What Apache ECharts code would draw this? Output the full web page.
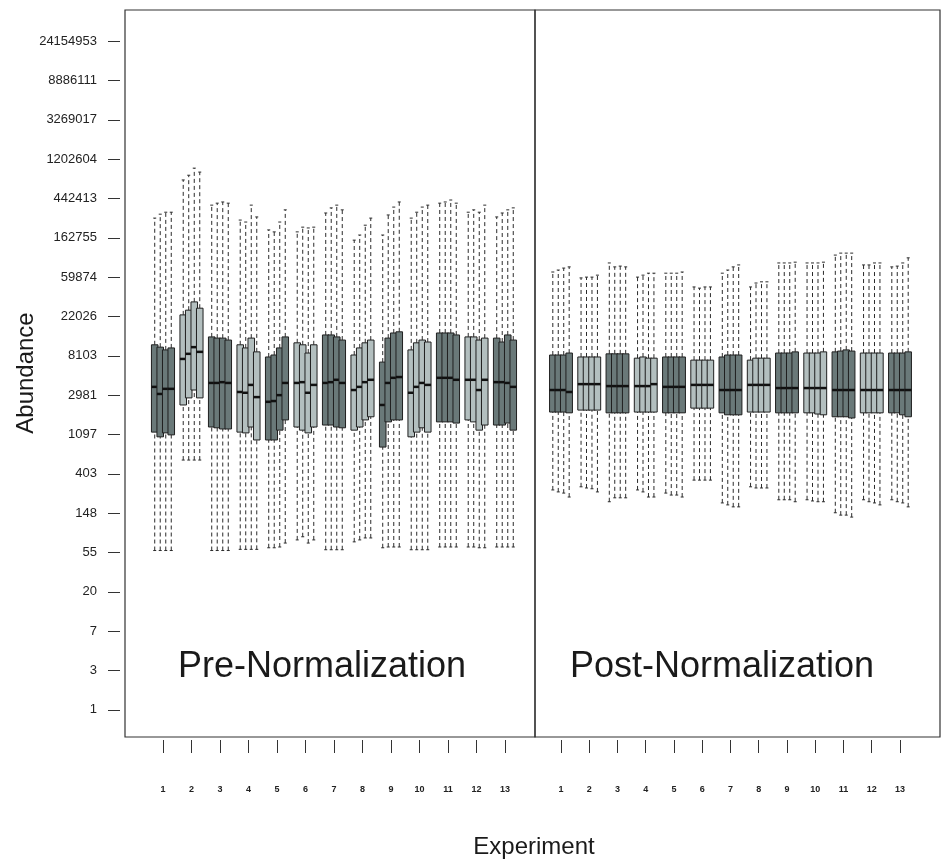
<!DOCTYPE html>
<html>
<head>
<meta charset="utf-8">
<script src="https://cdn.jsdelivr.net/npm/echarts@6/dist/echarts.min.js"></script>
<style>
  html, body { margin: 0; padding: 0; background: #fff; }
  #chart { width: 945px; height: 863px; }
</style>
</head>
<body>
<div id="chart"></div>
<script>
// experiment labels and y tick labels (e^0 .. e^17, rounded)
const experiments = ['1', '2', '3', '4', '5', '6', '7', '8', '9', '10', '11', '12', '13'];
const yTickLabels = ['1', '3', '7', '20', '55', '148', '403', '1097', '2981', '8103', '22026',
  '59874', '162755', '442413', '1202604', '3269017', '8886111', '24154953'];

// values are natural-log abundance, 4 replicate runs per experiment
const preHigh = [
  [12.50, 12.60, 12.65, 12.65], [13.47, 13.59, 13.77, 13.67], [12.83, 12.88, 12.91, 12.88],
  [12.45, 12.40, 12.83, 12.53], [12.20, 12.15, 12.40, 12.71], [12.15, 12.27, 12.25, 12.27],
  [12.63, 12.76, 12.83, 12.71], [11.94, 12.07, 12.32, 12.50], [12.07, 12.58, 12.78, 12.91],
  [12.50, 12.65, 12.78, 12.83], [12.88, 12.91, 12.96, 12.88], [12.65, 12.71, 12.65, 12.83],
  [12.53, 12.63, 12.71, 12.76]];
const preQ3 = [
  [9.28, 9.22, 9.15, 9.20], [10.04, 10.16, 10.37, 10.21], [9.48, 9.45, 9.45, 9.40],
  [9.28, 9.20, 9.45, 9.10], [8.97, 9.02, 9.20, 9.48], [9.33, 9.28, 9.07, 9.28],
  [9.53, 9.53, 9.48, 9.40], [9.02, 9.20, 9.33, 9.40], [8.84, 9.45, 9.58, 9.61],
  [9.15, 9.33, 9.40, 9.35], [9.58, 9.58, 9.58, 9.53], [9.48, 9.48, 9.40, 9.45],
  [9.45, 9.35, 9.53, 9.40]];
const preMed = [
  [8.21, 8.03, 8.16, 8.16], [8.92, 9.05, 9.22, 9.10], [8.31, 8.31, 8.33, 8.31],
  [8.08, 8.06, 8.26, 7.95], [7.83, 7.85, 8.00, 8.31], [8.31, 8.33, 8.06, 8.26],
  [8.31, 8.33, 8.39, 8.31], [8.13, 8.21, 8.33, 8.39], [7.75, 8.31, 8.44, 8.46],
  [8.06, 8.21, 8.31, 8.26], [8.44, 8.44, 8.44, 8.39], [8.39, 8.39, 8.13, 8.39],
  [8.33, 8.33, 8.31, 8.21]];
const preQ1 = [
  [7.06, 6.94, 7.04, 6.99], [7.75, 7.93, 8.13, 7.93], [7.19, 7.17, 7.14, 7.14],
  [7.06, 7.04, 7.19, 6.86], [6.86, 6.86, 7.11, 7.37], [7.19, 7.11, 7.04, 7.19],
  [7.24, 7.24, 7.19, 7.17], [7.11, 7.19, 7.37, 7.45], [6.68, 7.32, 7.37, 7.37],
  [6.94, 7.06, 7.17, 7.06], [7.32, 7.32, 7.32, 7.29], [7.37, 7.32, 7.11, 7.24],
  [7.24, 7.24, 7.29, 7.11]];
const preLow = [
  [4.05, 4.05, 4.05, 4.05], [6.35, 6.35, 6.35, 6.35], [4.05, 4.05, 4.05, 4.05],
  [4.08, 4.08, 4.08, 4.08], [4.12, 4.12, 4.14, 4.24], [4.32, 4.40, 4.24, 4.32],
  [4.07, 4.07, 4.07, 4.07], [4.27, 4.32, 4.37, 4.37], [4.12, 4.14, 4.14, 4.14],
  [4.07, 4.07, 4.07, 4.07], [4.14, 4.14, 4.14, 4.14], [4.14, 4.14, 4.12, 4.12],
  [4.14, 4.14, 4.14, 4.14]];

const postHigh = [
  [11.13, 11.18, 11.23, 11.26], [10.98, 11.00, 11.00, 11.05], [11.36, 11.26, 11.28, 11.26],
  [11.00, 11.05, 11.10, 11.10], [11.10, 11.10, 11.10, 11.13], [10.75, 10.72, 10.75, 10.75],
  [11.10, 11.18, 11.26, 11.31], [10.75, 10.85, 10.88, 10.88], [11.36, 11.36, 11.36, 11.38],
  [11.36, 11.36, 11.36, 11.38], [11.56, 11.61, 11.61, 11.61], [11.31, 11.31, 11.36, 11.36],
  [11.26, 11.28, 11.36, 11.49]];
const postQ3 = [
  [9.02, 9.02, 9.02, 9.07], [8.97, 8.97, 8.97, 8.97], [9.05, 9.05, 9.05, 9.05],
  [8.94, 8.97, 8.94, 8.94], [8.97, 8.97, 8.97, 8.97], [8.89, 8.89, 8.89, 8.89],
  [8.97, 9.02, 9.02, 9.02], [8.89, 8.94, 8.94, 8.94], [9.07, 9.07, 9.07, 9.10],
  [9.07, 9.07, 9.07, 9.10], [9.10, 9.12, 9.15, 9.12], [9.07, 9.07, 9.07, 9.07],
  [9.07, 9.07, 9.07, 9.10]];
const postMed = [
  [8.13, 8.13, 8.13, 8.08], [8.28, 8.28, 8.28, 8.28], [8.23, 8.23, 8.23, 8.23],
  [8.23, 8.23, 8.23, 8.28], [8.21, 8.21, 8.21, 8.21], [8.26, 8.26, 8.26, 8.26],
  [8.13, 8.13, 8.13, 8.13], [8.26, 8.26, 8.26, 8.26], [8.18, 8.18, 8.18, 8.18],
  [8.18, 8.18, 8.18, 8.18], [8.13, 8.13, 8.13, 8.13], [8.13, 8.13, 8.13, 8.13],
  [8.13, 8.13, 8.13, 8.13]];
const postQ1 = [
  [7.57, 7.57, 7.57, 7.55], [7.62, 7.62, 7.62, 7.62], [7.55, 7.55, 7.55, 7.55],
  [7.57, 7.57, 7.57, 7.57], [7.55, 7.55, 7.55, 7.55], [7.67, 7.67, 7.67, 7.67],
  [7.55, 7.50, 7.50, 7.50], [7.57, 7.57, 7.57, 7.57], [7.55, 7.55, 7.55, 7.55],
  [7.55, 7.55, 7.52, 7.50], [7.45, 7.45, 7.45, 7.42], [7.55, 7.55, 7.55, 7.55],
  [7.55, 7.55, 7.50, 7.45]];
const postLow = [
  [5.59, 5.54, 5.51, 5.41], [5.67, 5.64, 5.62, 5.54], [5.29, 5.39, 5.39, 5.39],
  [5.59, 5.54, 5.41, 5.41], [5.51, 5.46, 5.46, 5.41], [5.84, 5.84, 5.84, 5.84],
  [5.26, 5.21, 5.16, 5.16], [5.67, 5.64, 5.64, 5.64], [5.34, 5.34, 5.34, 5.29],
  [5.34, 5.31, 5.29, 5.29], [5.01, 4.95, 4.95, 4.90], [5.34, 5.29, 5.26, 5.21],
  [5.34, 5.29, 5.26, 5.16]];

const repOffsets = [-0.29, -0.097, 0.097, 0.29];
const boxWidth = 0.23;
const darkFill = '#6a7979';
const lightFill = '#b3bfbf';
const FONT = '"Liberation Sans", Arial, sans-serif';

function buildData(low, q1, med, q3, high) {
  const out = [];
  for (let e = 0; e < experiments.length; e++) {
    for (let r = 0; r < 4; r++) {
      out.push([e + 1, r, low[e][r], q1[e][r], med[e][r], q3[e][r], high[e][r], e % 2]);
    }
  }
  return out;
}

function renderBox(params, api) {
  const x = api.value(0) + repOffsets[api.value(1)];
  const lo = api.coord([x, api.value(2)]);
  const q1 = api.coord([x, api.value(3)]);
  const md = api.coord([x, api.value(4)]);
  const q3 = api.coord([x, api.value(5)]);
  const hi = api.coord([x, api.value(6)]);
  const w = api.size([boxWidth, 0])[0];
  const cx = lo[0];
  const dash = { stroke: '#2b2b2b', lineWidth: 1, lineDash: [4, 3] };
  const solid = { stroke: '#2b2b2b', lineWidth: 1 };
  return {
    type: 'group',
    children: [
      { type: 'line', shape: { x1: cx, y1: q3[1], x2: cx, y2: hi[1] }, style: dash },
      { type: 'line', shape: { x1: cx, y1: lo[1], x2: cx, y2: q1[1] }, style: dash },
      { type: 'line', shape: { x1: cx - 1.5, y1: hi[1], x2: cx + 1.5, y2: hi[1] }, style: solid },
      { type: 'line', shape: { x1: cx - 1.5, y1: lo[1], x2: cx + 1.5, y2: lo[1] }, style: solid },
      {
        type: 'rect',
        shape: { x: cx - w / 2, y: q3[1], width: w, height: q1[1] - q3[1] },
        style: { fill: api.value(7) ? lightFill : darkFill, stroke: '#1f1f1f', lineWidth: 1 }
      },
      { type: 'line', shape: { x1: cx - w / 2, y1: md[1], x2: cx + w / 2, y2: md[1] }, style: { stroke: '#111', lineWidth: 2.5 } }
    ]
  };
}

const tickVals = experiments.map((d, i) => i + 1);
const yVals = yTickLabels.map((d, i) => i);

function xAxisFor(idx, min, max) {
  return {
    type: 'value', gridIndex: idx, min: min, max: max, offset: 3, position: 'bottom',
    axisLine: { show: false, onZero: false },
    splitLine: { show: false },
    axisTick: { customValues: tickVals, length: 13, lineStyle: { color: '#333', width: 1 } },
    axisLabel: {
      customValues: tickVals, margin: 45,
      formatter: (v) => experiments[Math.round(v) - 1],
      fontSize: 9, fontWeight: 'bold', color: '#222', fontFamily: FONT
    }
  };
}

const chart = echarts.init(document.getElementById('chart'));
chart.setOption({
  animation: false,
  backgroundColor: '#fff',
  grid: [
    { left: 125, width: 410, top: 10, bottom: 126, show: true, borderColor: '#333', borderWidth: 1.2 },
    { left: 535, width: 405, top: 10, bottom: 126, show: true, borderColor: '#333', borderWidth: 1.2 }
  ],
  xAxis: [xAxisFor(0, -0.333, 14.053), xAxisFor(1, 0.08, 14.416)],
  yAxis: [
    {
      type: 'value', gridIndex: 0, min: -0.69, max: 17.79, offset: 5, position: 'left',
      axisLine: { show: false, onZero: false },
      splitLine: { show: false },
      axisTick: { customValues: yVals, length: 12, lineStyle: { color: '#333' } },
      axisLabel: {
        customValues: yVals, margin: 23,
        formatter: (v) => yTickLabels[Math.round(v)],
        fontSize: 13, color: '#222', fontFamily: FONT
      }
    },
    {
      type: 'value', gridIndex: 1, min: -0.69, max: 17.79,
      axisLine: { show: false, onZero: false }, axisTick: { show: false },
      axisLabel: { show: false }, splitLine: { show: false }
    }
  ],
  series: [
    {
      type: 'custom', xAxisIndex: 0, yAxisIndex: 0,
      renderItem: renderBox,
      data: buildData(preLow, preQ1, preMed, preQ3, preHigh)
    },
    {
      type: 'custom', xAxisIndex: 1, yAxisIndex: 1,
      renderItem: renderBox,
      data: buildData(postLow, postQ1, postMed, postQ3, postHigh)
    }
  ],
  graphic: [
    {
      type: 'text', x: 322, y: 667,
      style: { text: 'Pre-Normalization', fontSize: 36, fill: '#1a1a1a', fontFamily: FONT, align: 'center', verticalAlign: 'middle' }
    },
    {
      type: 'text', x: 722, y: 667,
      style: { text: 'Post-Normalization', fontSize: 36, fill: '#1a1a1a', fontFamily: FONT, align: 'center', verticalAlign: 'middle' }
    },
    {
      type: 'text', x: 534, y: 847,
      style: { text: 'Experiment', fontSize: 24, fill: '#1a1a1a', fontFamily: FONT, align: 'center', verticalAlign: 'middle' }
    },
    {
      type: 'text', x: 26, y: 373, rotation: Math.PI / 2,
      style: { text: 'Abundance', fontSize: 24, fill: '#1a1a1a', fontFamily: FONT, align: 'center', verticalAlign: 'middle' }
    }
  ]
});
</script>
</body>
</html>
